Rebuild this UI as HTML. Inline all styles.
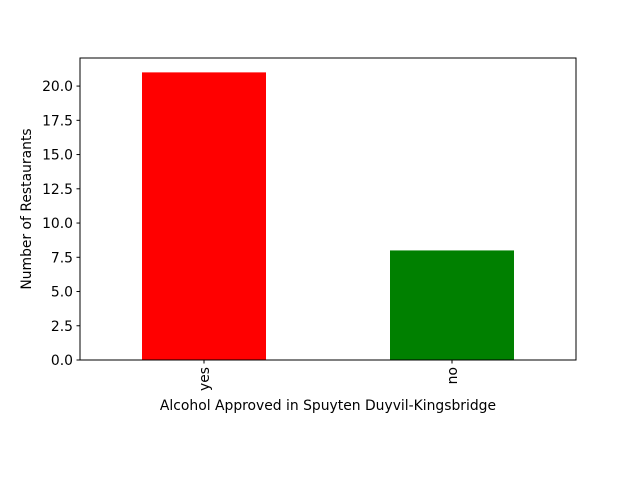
<!DOCTYPE html>
<html><head><meta charset="utf-8"><style>
body{margin:0;background:#fff;}
svg{display:block;font-family:"DejaVu Sans","Liberation Sans",sans-serif;}
</style></head><body>
<svg id="chart" width="640" height="480">
<rect width="640" height="480" fill="#fff"/>
<g id="bars"></g>
<g id="yticks"></g>
<g id="xticks"></g>
<rect x="80" y="58" width="496" height="302" fill="none" stroke="#000" stroke-width="1"/>
<text x="328" y="410" font-size="13.9" text-anchor="middle">Alcohol Approved in Spuyten Duyvil-Kingsbridge</text>
<text transform="translate(31,209) rotate(-90)" font-size="13.9" text-anchor="middle">Number of Restaurants</text>
</svg>
<script>
const categories = ["yes", "no"];
const values = [21, 8];
const colors = ["#ff0000", "#008000"];
const yTicks = [0, 2.5, 5, 7.5, 10, 12.5, 15, 17.5, 20];
const yTickLabels = ["0.0","2.5","5.0","7.5","10.0","12.5","15.0","17.5","20.0"];

const L=80,R=576,T=58,B=360;
const yMax = Math.max(...values)*1.05;
const y = v => B - v/yMax*(B-T);
const step = (R-L)/categories.length;
const x = i => L + step*(i+0.5);
const ns="http://www.w3.org/2000/svg";
const mk=(t,a,p)=>{const e=document.createElementNS(ns,t);for(const k in a)e.setAttribute(k,a[k]);p.appendChild(e);return e;};
const gb=document.getElementById('bars'), gy=document.getElementById('yticks'), gx=document.getElementById('xticks');
values.forEach((v,i)=>{
  const bw=step*0.5;
  const r=mk('rect',{x:x(i)-bw/2,y:y(v),width:bw,height:B-y(v),fill:colors[i]},gb);
  
  
  const tk=mk('line',{x1:x(i),x2:x(i),y1:B,y2:B+3.5,stroke:'#000'},gx);
  
  
  const t=mk('text',{transform:`translate(${x(i)+5},${B+7}) rotate(-90)`,'font-size':13.9,'text-anchor':'end'},gx);
  t.textContent=categories[i];
  
  
});
yTicks.forEach((v,i)=>{
  const tk=mk('line',{x1:L-3.5,x2:L,y1:y(v),y2:y(v),stroke:'#000'},gy);
  
  
  const t=mk('text',{x:L-7,y:y(v)+5,'font-size':13.9,'text-anchor':'end'},gy);
  t.textContent=yTickLabels[i];
  
  
});
</script>
</body></html>
